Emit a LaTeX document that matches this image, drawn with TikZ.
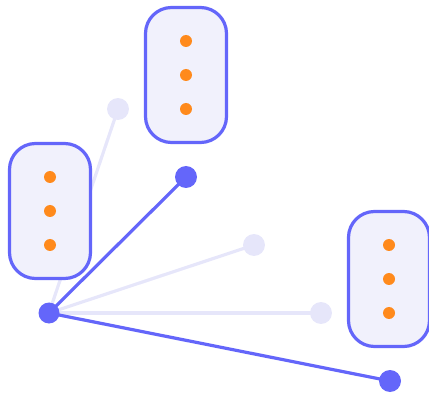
\documentclass[tikz,border=0pt]{standalone}
\usetikzlibrary{backgrounds}
\definecolor{accent}{HTML}{6466FA}
\definecolor{faint}{HTML}{E6E6FA}
\definecolor{panel}{HTML}{F1F1FC}
\definecolor{pip}{HTML}{FF8A1C}
\tikzset{
  x=1pt, y=-1pt,
  panelbox/.style={draw=accent, fill=panel, line width=3.2pt, rounded corners=26pt,
    minimum width=81pt, minimum height=135pt, inner sep=0pt},
  pipdot/.style={circle, fill=pip, minimum size=12pt, inner sep=0pt},
  hubdot/.style={circle, fill=accent, minimum size=21pt, inner sep=0pt},
  bigdot/.style={circle, fill=accent, minimum size=22pt, inner sep=0pt},
  ghostdot/.style={circle, fill=faint, minimum size=22pt, inner sep=0pt},
  strong/.style={draw=accent, line width=3.2pt},
  weak/.style={draw=faint, line width=3.2pt},
}
\begin{document}
\begin{tikzpicture}
\useasboundingbox (0,0) rectangle (429,393);

% end points of the spokes
\node[hubdot]   (hub) at (49,313) {};
\node[ghostdot] (g1)  at (118,109) {};
\node[bigdot]   (d1)  at (186,177) {};
\node[ghostdot] (g2)  at (254,245) {};
\node[ghostdot] (g3)  at (321,313) {};
\node[bigdot]   (d2)  at (390,381) {};

% spokes, drawn beneath the dots
\begin{scope}[on background layer]
  \draw[weak]   (hub.center) -- (g1.center);
  \draw[weak]   (hub.center) -- (g2.center);
  \draw[weak]   (hub.center) -- (g3.center);
  \draw[strong] (hub.center) -- (d1.center);
  \draw[strong] (hub.center) -- (d2.center);
\end{scope}

% panels with three pips each
\node[panelbox] (left)  at (50,211) {};
\node[panelbox] (top)   at (186,75) {};
\node[panelbox] (right) at (389,279) {};

\foreach \p in {left, top, right} {
  \node[pipdot] (\p-a) at ([yshift=34pt]\p.center) {};
  \node[pipdot] (\p-b) at (\p.center) {};
  \node[pipdot] (\p-c) at ([yshift=-34pt]\p.center) {};
}
\end{tikzpicture}
\end{document}
